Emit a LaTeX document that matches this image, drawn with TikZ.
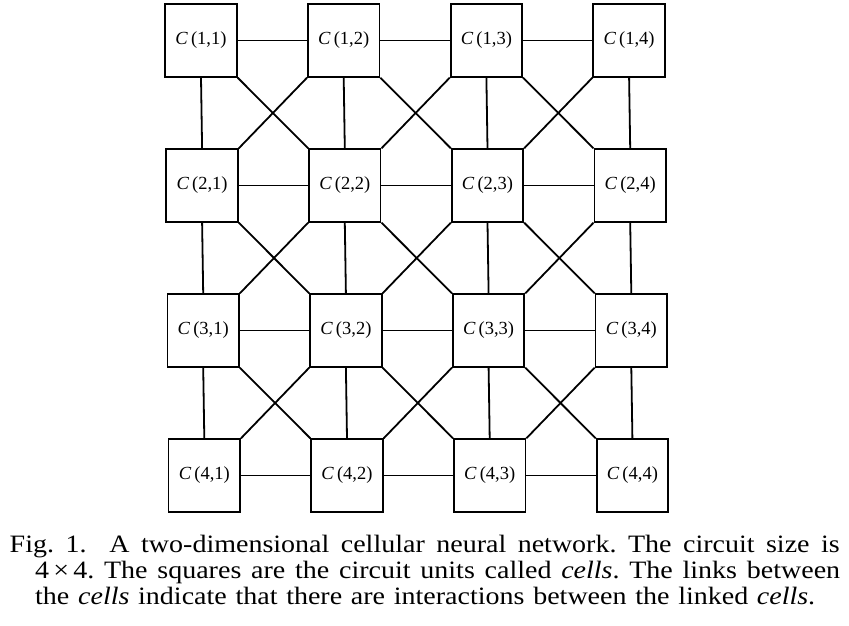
\documentclass[tikz,border=0pt]{standalone}
\usepackage{fontspec}
\setmainfont{Liberation Serif}
\newfontfamily\capfont[FakeStretch=1.12]{Liberation Serif}
\frenchspacing
\begin{document}
\begin{tikzpicture}[x=1pt,y=-1pt,
  cell/.style={draw, line width=1.8pt, minimum width=71.5pt, minimum height=72.5pt, inner sep=0pt, font=\fontsize{18.5}{22}\selectfont},
  link/.style={line width=1.8pt},
  capline/.style={anchor=base west, inner sep=0pt, font=\capfont\fontsize{25}{27}\selectfont}]
\path[use as bounding box] (0,0) rectangle (849,626);
\foreach \i in {1,...,4}{\foreach \j in {1,...,4}{
  \pgfmathsetmacro\cx{201+142.7*(\j-1)+1.1*(\i-1)}
  \pgfmathsetmacro\cy{40.5+145*(\i-1)}
  \node[cell] (c\i\j) at (\cx,\cy) {\textit{C}\,(\i,\j)};
}}
\foreach \i in {1,...,4}{\foreach \j/\k in {1/2,2/3,3/4}{
  \draw[link] (c\i\j.east) -- (c\i\k.west);}}
\foreach \i/\n in {1/2,2/3,3/4}{\foreach \j in {1,...,4}{
  \draw[link] (c\i\j.south) -- (c\n\j.north);}}
\foreach \i/\n in {1/2,2/3,3/4}{\foreach \j/\k in {1/2,2/3,3/4}{
  \draw[link] (c\i\j.south east) -- (c\n\k.north west);
  \draw[link] (c\i\k.south west) -- (c\n\j.north east);}}
\node[capline] (cap1) at (9.5,552.5) {\makebox[830pt][s]{Fig. 1.\ \ A two-dimensional cellular neural network. The circuit size is}};
\node[capline] (cap2) at (35,578.5) {\makebox[805pt][s]{4\,×\,4. The squares are the circuit units called \textit{cells}. The links between}};
\node[capline] (cap3) at (35,604) {\makebox[780pt][s]{the \textit{cells} indicate that there are interactions between the linked \textit{cells}.}};
\end{tikzpicture}
\end{document}
